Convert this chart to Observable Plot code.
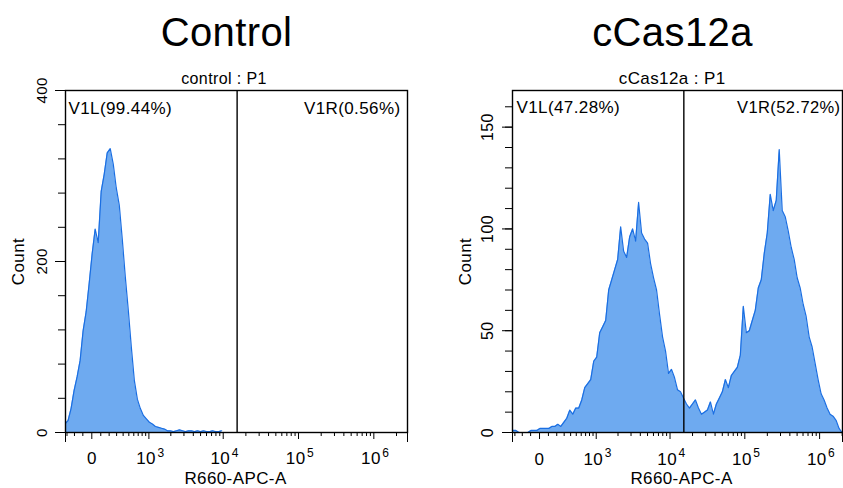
<!DOCTYPE html>
<html>
<head>
<meta charset="utf-8">
<script src="https://cdn.jsdelivr.net/npm/d3@7"></script>
<script src="https://cdn.jsdelivr.net/npm/@observablehq/plot@0.6"></script>
<style>
  body { margin: 0; background: #fff; }
  #fig { display: flex; width: 843px; height: 488px; overflow: hidden; background: #fff; }
  #fig svg { display: block; overflow: hidden; }
  #fig svg text { letter-spacing: 0.4px; }
</style>
</head>
<body>
<div id="fig"></div>
<script>
// ---------- data ----------
const titles = ["Control", "cCas12a"];
const subtitles = ["control : P1", "cCas12a : P1"];
const gateLabelsLeft = ["V1L(99.44%)", "V1L(47.28%)"];
const gateLabelsRight = ["V1R(0.56%)", "V1R(52.72%)"];
const gateValue = 15300;           // R660-APC-A gate position
const axisLabelX = "R660-APC-A";
const axisLabelY = "Count";

// histogram bins in display (biexponential) decades
const binStart = 1.9;
const binWidth = 0.04;
const controlCounts = [
  10, 14, 28, 49, 65, 84, 119, 141, 174, 209,
  238, 222, 282, 302, 327, 332, 314, 286, 266, 226,
  182, 143, 100, 61, 39, 28, 20, 16, 12, 10,
  7, 6, 5, 4, 2, 2, 1, 2, 3, 2,
  1, 2, 2, 1, 2, 1, 2, 1, 1, 2,
  1, 1, 2
];
const cas12aCounts = [
  1, 1, 0, 0, 0, 0, 1, 1, 1, 2,
  2, 2, 2, 3, 3, 4, 3, 5, 7, 11,
  9, 12, 12, 16, 22, 24, 26, 35, 37, 49,
  52, 55, 70, 75, 80, 85, 101, 89, 86, 96,
  100, 94, 113, 98, 95, 93, 83, 76, 70, 58,
  47, 40, 29, 31, 27, 21, 20, 17, 14, 12,
  14, 16, 12, 9, 10, 11, 15, 9, 14, 17,
  20, 26, 22, 28, 30, 32, 38, 62, 49, 50,
  55, 60, 71, 75, 88, 98, 117, 109, 114, 139,
  109, 106, 99, 91, 85, 76, 71, 63, 57, 47,
  42, 34, 26, 19, 16, 12, 9, 8, 6, 2, 0
];

// axes
const xTickValues = [0, 1e3, 1e4, 1e5, 1e6];
const xTickBases = ["0", "10", "10", "10", "10"];
const xTickExponents = ["", "3", "4", "5", "6"];
const xMinorTicks = [-400, -300, -200, -100, 100, 200, 300, 400, 500, 600, 700, 800, 900,
  2e3, 3e3, 4e3, 5e3, 6e3, 7e3, 8e3, 9e3,
  2e4, 3e4, 4e4, 5e4, 6e4, 7e4, 8e4, 9e4,
  2e5, 3e5, 4e5, 5e5, 6e5, 7e5, 8e5, 9e5, 2e6];
const controlYTicks = [0, 40, 80, 120, 160, 200, 240, 280, 320, 360, 400];
const controlYLabels = [0, 200, 400];
const cas12aYTicks = [0, 10, 20, 30, 40, 50, 60, 70, 80, 90, 100, 110, 120, 130, 140, 150, 160];
const cas12aYLabels = [0, 50, 100, 150];

// ---------- biexponential-like display transform ----------
const W = 180;
const T = v => Math.log10((v + Math.sqrt(v * v + 4 * W * W)) / 2);

const FILL = "#6eaaf0";
const STROKE = "#1a6ee2";
const FONT = "'Liberation Sans', Arial, Helvetica, sans-serif";

function panel(p) {
  const bins = p.counts.map((c, i) => ({x: binStart + i * binWidth, y: c}));
  const inDom = v => { const t = T(v); return t >= p.xDomain[0] && t <= p.xDomain[1]; };
  const minors = xMinorTicks.filter(inDom).map(T);
  const majors = xTickValues.filter(inDom).map(T);
  const at = (str, x, y, opts) => Plot.text([str], {
    text: d => d, frameAnchor: "top-left",
    dx: x - p.marginLeft, dy: y - p.marginTop,
    lineAnchor: "bottom", fill: "black", ...opts
  });
  const bottom = 488 - p.marginBottom;
  const ticks = xTickValues.map((v, i) => ({v, base: xTickBases[i], exp: xTickExponents[i]}));
  return Plot.plot({
    width: p.width,
    height: 488,
    marginLeft: p.marginLeft,
    marginRight: p.marginRight,
    marginTop: p.marginTop,
    marginBottom: p.marginBottom,
    style: {fontFamily: FONT, background: "white", color: "black", overflow: "hidden"},
    x: {domain: p.xDomain, axis: null},
    y: {domain: [0, p.yMax], axis: null},
    marks: [
      Plot.areaY(bins, {x: "x", y: "y", curve: "linear", fill: FILL, clip: true}),
      Plot.lineY(bins, {x: "x", y: "y", curve: "linear", stroke: STROKE, strokeWidth: 1.2, clip: true}),
      Plot.ruleX([gateValue], {x: d => T(d), stroke: "black", strokeWidth: 1.4}),
      Plot.frame({stroke: "black", strokeWidth: 1.4}),
      // x ticks
      Plot.axisX({ticks: minors, tickSize: 4, fill: "none", stroke: "black", anchor: "bottom"}),
      Plot.axisX({ticks: majors, tickSize: 7, fill: "none", stroke: "black", anchor: "bottom"}),
      Plot.axisX({ticks: p.xDomain, tickSize: 10, fill: "none", stroke: "black", anchor: "bottom"}),
      // y ticks
      Plot.axisY({ticks: p.yTicks, tickSize: 7, fill: "none", stroke: "black", anchor: "left"}),
      Plot.axisY({ticks: p.yLabels, tickSize: 10, fill: "none", stroke: "black", anchor: "left"}),
      // y tick labels (rotated)
      Plot.text(p.yLabels, {y: d => d, text: d => String(d), frameAnchor: "left", dx: p.yLabelDx,
        rotate: -90, textAnchor: "middle", lineAnchor: "middle", fontSize: p.yLabelSize, fill: "black"}),
      // x tick labels
      Plot.text(ticks.filter(t => t.exp === ""), {x: t => T(t.v), text: t => t.base, frameAnchor: "bottom",
        dy: p.xLabelBaseline - bottom, lineAnchor: "bottom", textAnchor: "middle", fontSize: 17, fill: "black"}),
      Plot.text(ticks.filter(t => t.exp !== ""), {x: t => T(t.v), text: t => t.base, frameAnchor: "bottom",
        dx: 7, dy: p.xLabelBaseline - bottom, lineAnchor: "bottom", textAnchor: "end", fontSize: 17, fill: "black"}),
      Plot.text(ticks.filter(t => t.exp !== ""), {x: t => T(t.v), text: t => t.exp, frameAnchor: "bottom",
        dx: 8.5, dy: p.xLabelBaseline - 7.5 - bottom, lineAnchor: "bottom", textAnchor: "start", fontSize: 12, fill: "black"}),
      // axis labels
      at(axisLabelX, p.xLabelX, 483, {textAnchor: "middle", fontSize: 17}),
      Plot.text([axisLabelY], {text: d => d, frameAnchor: "left", dx: -47, rotate: -90,
        textAnchor: "middle", lineAnchor: "middle", fontSize: 17, fill: "black"}),
      // titles
      at(p.title, p.titleX, 45, {textAnchor: "middle", fontSize: 40}),
      at(p.subtitle, p.subtitleX, 83, {textAnchor: "middle", fontSize: p.subtitleSize}),
      // gate labels
      at(p.gateLeft, p.gateLeftX, p.gateY, {textAnchor: "start", fontSize: 17}),
      at(p.gateRight, p.gateRightX, p.gateY, {textAnchor: p.gateRightAnchor, fontSize: p.gateRightSize})
    ]
  });
}

const left = panel({
  width: 421, marginLeft: 65, marginRight: 14, marginTop: 90, marginBottom: 56,
  xDomain: [1.906, 6.447], yMax: 400, counts: controlCounts,
  yTicks: controlYTicks, yLabels: controlYLabels, yLabelDx: -23.5, yLabelSize: 15,
  xLabelBaseline: 463.5, xLabelX: 235,
  title: titles[0], titleX: 226, subtitle: subtitles[0], subtitleX: 223.5, subtitleSize: 16,
  gateLeft: gateLabelsLeft[0], gateLeftX: 68, gateRight: gateLabelsRight[0], gateRightX: 400,
  gateRightAnchor: "end", gateRightSize: 17, gateY: 113.5
});
const right = panel({
  width: 422, marginLeft: 91, marginRight: 1, marginTop: 90, marginBottom: 56,
  xDomain: [1.894, 6.306], yMax: 168, counts: cas12aCounts,
  yTicks: cas12aYTicks, yLabels: cas12aYLabels, yLabelDx: -24.5, yLabelSize: 16,
  xLabelBaseline: 464.3, xLabelX: 681 - 421,
  title: titles[1], titleX: 672 - 421, subtitle: subtitles[1], subtitleX: 671.7 - 421, subtitleSize: 17,
  gateLeft: gateLabelsLeft[1], gateLeftX: 516 - 421, gateRight: gateLabelsRight[1], gateRightX: 840 - 421,
  gateRightAnchor: "end", gateRightSize: 16.5, gateY: 112.5
});
const fig = document.getElementById("fig");
fig.appendChild(left);
fig.appendChild(right);
</script>
</body>
</html>
